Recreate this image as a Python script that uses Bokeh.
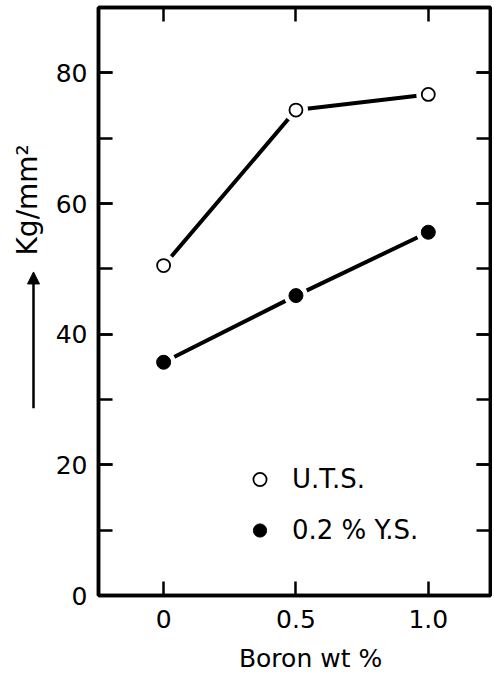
import math
from bokeh.plotting import figure
from bokeh.layouts import row, column
from bokeh.models import (ColumnDataSource, Range1d, LinearAxis, FixedTicker,
                          SingleIntervalTicker, Legend, LegendItem, Arrow, NormalHead)
from bokeh.core.properties import value
from bokeh.embed import file_html
from bokeh.resources import INLINE

# ---- data ----
boron = [0.0, 0.5, 1.0]
uts = [50.5, 74.3, 76.7]
ys = [35.7, 45.9, 55.6]
x_ticks = [0.0, 0.5, 1.0]
x_tick_labels = ["0", "0.5", "1.0"]
series_labels = ["U.T.S.", "0.2 % Y.S."]
x_title = "Boron  wt %"
y_title = "Kg/mm²"

FONT = "DejaVu Sans"
H = 640
FRAME_BOTTOM = 595   # screen y of the main frame's bottom edge
FRAME_H = 587        # main frame height in pixels

# ---- left strip holding the y title and the upward arrow ----
side = figure(width=50, height=H, output_backend="svg", toolbar_location=None,
              x_range=Range1d(0, 50), y_range=Range1d(0, FRAME_H),
              x_axis_location=None, y_axis_location=None)
side.min_border_left = side.min_border_right = 0
side.outline_line_color = None
side.xgrid.visible = False
side.ygrid.visible = False
side.text(x=[27], y=[FRAME_BOTTOM - 200], text=[y_title], angle=math.pi / 2,
          text_font=value(FONT), text_font_size="28px", text_align="center",
          text_baseline="middle", text_color="black")
side.add_layout(Arrow(x_start=33, y_start=FRAME_BOTTOM - 408, x_end=33, y_end=FRAME_BOTTOM - 272,
                      line_color="black", line_width=2.5,
                      end=NormalHead(size=12, fill_color="black", line_color="black")))

# ---- main plot ----
p = figure(width=442, height=H, output_backend="svg", toolbar_location=None,
           x_range=Range1d(-0.246, 1.235), y_range=Range1d(0, 90),
           x_axis_location=None, y_axis_location=None)
p.min_border_left = 48
p.min_border_right = 2
p.min_border_top = 7
p.min_border_bottom = H - FRAME_BOTTOM
p.background_fill_color = "white"
p.border_fill_color = "white"
p.outline_line_color = "black"
p.outline_line_width = 3.5
p.xgrid.visible = False
p.ygrid.visible = False

def style_axis(ax, labels=True):
    ax.axis_line_color = "black"
    ax.axis_line_width = 3.5
    ax.major_tick_in = 14
    ax.major_tick_out = 0
    ax.minor_tick_in = 14
    ax.minor_tick_out = 0
    ax.major_tick_line_width = 2.5
    ax.minor_tick_line_width = 2.5
    ax.major_tick_line_color = "black"
    ax.minor_tick_line_color = "black"
    if labels:
        ax.major_label_text_font = FONT
        ax.major_label_text_font_size = "25px"
        ax.major_label_text_color = "black"
    else:
        ax.major_label_text_font_size = "0px"
        ax.major_label_standoff = 0

for loc, lab in (("left", True), ("right", False)):
    ax = LinearAxis(ticker=SingleIntervalTicker(interval=20, num_minor_ticks=2))
    style_axis(ax, lab)
    if lab:
        ax.major_label_standoff = 11
    else:
        ax.major_label_overrides = {v: "" for v in range(0, 100, 20)}
    p.add_layout(ax, loc)

for loc, lab in (("below", True), ("above", False)):
    ax = LinearAxis(ticker=FixedTicker(ticks=x_ticks))
    style_axis(ax, lab)
    ax.minor_tick_in = 0
    if lab:
        ax.major_label_overrides = {t: s for t, s in zip(x_ticks, x_tick_labels)}
        ax.major_label_standoff = 14
    else:
        ax.major_label_overrides = {t: "" for t in x_ticks}
    p.add_layout(ax, loc)

src = ColumnDataSource(dict(x=boron, uts=uts, ys=ys))

p.line("x", "uts", source=src, line_color="black", line_width=4)
p.line("x", "ys", source=src, line_color="black", line_width=4)
# white halos leave small gaps between lines and markers
p.scatter("x", "uts", source=src, size=24, fill_color="white", line_color=None)
p.scatter("x", "ys", source=src, size=24, fill_color="white", line_color=None)
r_uts = p.scatter("x", "uts", source=src, size=13, fill_color="white",
                  line_color="black", line_width=1.8)
r_ys = p.scatter("x", "ys", source=src, size=14, fill_color="black",
                 line_color="black", line_width=1)

legend = Legend(items=[LegendItem(label=series_labels[0], renderers=[r_uts]),
                       LegendItem(label=series_labels[1], renderers=[r_ys])],
                location=(145, 45), orientation="vertical")
legend.border_line_color = None
legend.background_fill_alpha = 0
legend.padding = 0
legend.margin = 0
legend.glyph_width = 33
legend.glyph_height = 40
legend.label_height = 40
legend.spacing = 11
legend.label_standoff = 16
legend.label_text_font = FONT
legend.label_text_font_size = "26px"
legend.label_text_color = "black"
p.add_layout(legend, "center")

# ---- bottom strip holding the x title ----
BW, BH = 492, 33
bottom = figure(width=BW, height=BH, output_backend="svg", toolbar_location=None,
                x_range=Range1d(0, BW), y_range=Range1d(0, BH),
                x_axis_location=None, y_axis_location=None)
bottom.min_border_left = bottom.min_border_right = 0
bottom.min_border_top = bottom.min_border_bottom = 0
bottom.outline_line_color = None
bottom.xgrid.visible = False
bottom.ygrid.visible = False
bottom.text(x=[314], y=[BH - 18], text=[x_title], text_font=value(FONT),
            text_font_size="25px", text_align="center", text_baseline="middle",
            text_color="black")

layout = column(row(side, p, spacing=0), bottom, spacing=0)
open("out.html", "w").write(file_html(layout, INLINE))
